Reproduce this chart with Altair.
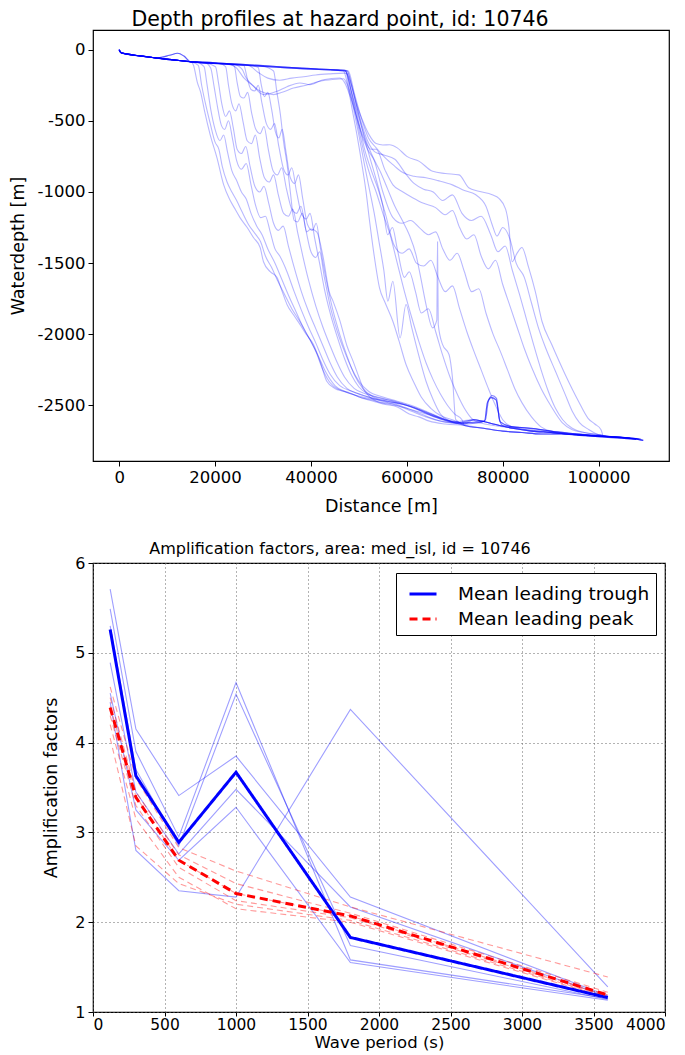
import altair as alt
import pandas as pd

# ---------------- top panel: depth profiles (x in m, depth in m) ----------------
shelf_a = [(0, 0), (400, -22), (1500, -30), (4000, -42), (7000, -55), (10000, -66), (13000, -78), (15000, -85)]
shelf_b = [(0, -5), (500, -25), (2000, -33), (5000, -47), (8000, -57), (10500, -40), (12200, -25), (13500, -45), (15000, -88)]
shelf_c = [(0, -3), (300, -18), (1200, -28), (4500, -45), (8000, -60), (11000, -72), (14000, -82), (15000, -86)]

rs1 = [(16000, -88), (20000, -96), (24000, -104), (28000, -113), (32000, -122), (36000, -130), (40000, -137), (44000, -143), (46500, -148)]
rs2 = [(16000, -85), (20000, -92), (24000, -100), (28000, -108), (32000, -117), (36000, -125), (40000, -132), (44000, -140), (47000, -145)]
dip1 = [(16000, -88), (20000, -96), (24000, -104), (25700, -140), (26300, -187), (28050, -258), (30130, -316), (32900, -293), (35000, -260), (37700, -234), (39800, -246), (42570, -211), (46000, -199)]
dip2 = [(16000, -88), (20000, -96), (23000, -102), (24500, -130), (26000, -199), (27800, -250), (29430, -293), (32200, -316), (34000, -300), (36350, -270), (39000, -250), (41870, -222), (44500, -210), (46800, -205)]
dip3 = [(16000, -86), (20000, -94), (24000, -102), (27000, -112), (29000, -160), (31000, -200), (33500, -215), (36000, -200), (38500, -190), (41000, -178), (44000, -170), (47000, -165)]

tail_bump1 = [(72000, -2630), (75500, -2620), (76400, -2600), (77000, -2470), (77800, -2430), (78700, -2450), (79300, -2600), (80000, -2640), (84000, -2655), (88000, -2670), (92000, -2690), (96000, -2700), (100000, -2712), (104000, -2722), (108800, -2735)]
tail_bump2 = [(73000, -2620), (76200, -2610), (76800, -2480), (77600, -2445), (78600, -2460), (79500, -2615), (82000, -2650), (86000, -2660), (90000, -2680), (94000, -2695), (98000, -2708), (102000, -2718), (106500, -2728)]
tail_flat1 = [(72000, -2640), (76000, -2660), (80000, -2680), (84000, -2690), (88000, -2700), (92000, -2700), (96000, -2710), (100000, -2720), (104000, -2728), (107800, -2738)]
tail_flat2 = [(74000, -2600), (78000, -2630), (82000, -2660), (86000, -2680), (90000, -2690), (95000, -2705), (100000, -2715), (105000, -2725), (109300, -2745)]
tail_r = [(84000, -2665), (88000, -2680), (92000, -2695), (96000, -2705), (100000, -2715), (104000, -2724), (108000, -2732)]
end_tail = [(100000, -2705), (103000, -2720), (106000, -2727), (108500, -2735)]
end_tail2 = [(101000, -2715), (104000, -2725), (107000, -2730), (109000, -2740)]
end_tail3 = [(93000, -2695), (97000, -2708), (101000, -2718), (105000, -2728), (108200, -2736)]

L1 = [(15500, -110), (16300, -230), (17000, -300), (17800, -430), (19000, -600), (20400, -760), (21800, -950), (23000, -1050), (24000, -1110), (25200, -1180), (26700, -1250), (28000, -1320), (29400, -1390), (30100, -1490), (31500, -1560), (32900, -1600), (34000, -1700), (35000, -1790), (36500, -1870), (37700, -1930), (39000, -2000), (40500, -2070), (42000, -2200), (43300, -2330), (45000, -2380), (46700, -2400), (48500, -2420), (50900, -2450), (53000, -2470), (55000, -2490), (58000, -2510), (60500, -2560), (62500, -2580), (64700, -2610), (68000, -2630)]
L2 = [(16500, -110), (17200, -250), (18000, -380), (19000, -520), (20000, -650), (20800, -700), (21500, -820), (22500, -930), (23500, -1000), (24500, -1060), (25500, -1130), (27000, -1230), (28500, -1300), (29500, -1350), (30500, -1450), (31800, -1530), (33000, -1620), (34500, -1720), (36000, -1820), (37500, -1900), (39500, -2020), (41000, -2120), (42500, -2250), (44000, -2340), (46000, -2390), (48000, -2410), (50000, -2440), (52500, -2460), (55000, -2480), (57500, -2490), (60000, -2520), (63000, -2560), (66000, -2600), (69000, -2620)]
L3 = [(16000, -88), (17700, -120), (18300, -240), (19100, -420), (20000, -560), (21000, -640), (21800, -600), (22600, -720), (23500, -850), (24500, -920), (25500, -1000), (26500, -1050), (27500, -1150), (28700, -1240), (29800, -1300), (31000, -1400), (32500, -1500), (34000, -1620), (35500, -1740), (37000, -1850), (38500, -1960), (40000, -2050), (41500, -2150), (43000, -2260), (45000, -2360), (47000, -2400), (49500, -2430), (52000, -2450), (55000, -2470), (58000, -2500), (61000, -2540), (64000, -2580), (67000, -2610), (70000, -2625)]
L4 = [(16000, -88), (18000, -94), (19100, -130), (19800, -260), (20500, -400), (21300, -530), (22000, -560), (22800, -500), (23600, -620), (24500, -780), (25500, -840), (26500, -800), (27500, -950), (28500, -1100), (29500, -1180), (30500, -1170), (31500, -1280), (32500, -1400), (33500, -1450), (35000, -1560), (36500, -1700), (38000, -1830), (39500, -1950), (41000, -2060), (42500, -2180), (44000, -2280), (46000, -2360), (48500, -2400), (51000, -2430), (54000, -2460), (57000, -2480), (60000, -2500), (63000, -2540), (66500, -2590), (70000, -2620)]
L5 = [(18000, -94), (20100, -120), (20700, -230), (21400, -380), (22200, -470), (23000, -430), (23800, -550), (24600, -700), (25500, -730), (26400, -680), (27300, -820), (28300, -960), (29300, -1000), (30200, -960), (31200, -1080), (32200, -1220), (33200, -1270), (34200, -1240), (35300, -1380), (36500, -1530), (38000, -1700), (39500, -1840), (41000, -1960), (42500, -2080), (44000, -2200), (45500, -2300), (47500, -2380), (50000, -2420), (53000, -2450), (56000, -2470), (59000, -2490), (62000, -2520), (65000, -2560), (68000, -2600), (71000, -2620)]
L6 = [(18000, -94), (21000, -98), (22200, -120), (22800, -250), (23500, -380), (24300, -430), (25000, -380), (25800, -500), (26700, -640), (27600, -660), (28400, -600), (29300, -760), (30300, -900), (31300, -930), (32200, -880), (33200, -1020), (34300, -1150), (35300, -1170), (36200, -1120), (37200, -1280), (38300, -1450), (39500, -1620), (41000, -1800), (42500, -1950), (44000, -2080), (45500, -2200), (47000, -2300), (49000, -2380), (51500, -2420), (54500, -2450), (57500, -2470), (60500, -2500), (63500, -2540), (66500, -2580), (69500, -2615)]
L7 = [(18000, -94), (22000, -100), (24000, -115), (24600, -230), (25300, -330), (26000, -340), (26800, -300), (27600, -440), (28500, -560), (29400, -590), (30200, -540), (31100, -700), (32100, -850), (33000, -880), (33900, -830), (34900, -980), (36000, -1120), (37000, -1150), (37900, -1100), (38900, -1260), (40000, -1420), (41000, -1460), (41800, -1420), (42800, -1600), (44000, -1800), (45500, -1980), (47000, -2120), (48500, -2240), (50000, -2330), (52000, -2400), (55000, -2440), (58000, -2470), (61000, -2500), (64000, -2540), (67500, -2590), (71000, -2620)]
L8 = [(18000, -94), (24000, -105), (26000, -112), (26700, -200), (27500, -280), (28300, -290), (29000, -250), (29800, -380), (30700, -520), (31600, -560), (32400, -520), (33300, -680), (34300, -840), (35200, -880), (36000, -830), (37000, -1000), (38000, -1150), (39000, -1190), (39800, -1150), (40800, -1330), (41800, -1500), (42800, -1680), (44000, -1850), (45500, -2020), (47000, -2170), (48500, -2290), (50000, -2370), (52000, -2420), (55000, -2450), (58000, -2480), (61000, -2510), (64500, -2560), (68000, -2600), (71500, -2625)]
L9 = [(18000, -94), (24000, -105), (28000, -116), (29000, -125), (29600, -240), (30300, -330), (31000, -300), (31800, -420), (32600, -580), (33300, -620), (34000, -560), (34800, -720), (35700, -900), (36600, -940), (37400, -880), (38300, -1050), (39300, -1230), (40300, -1270), (41100, -1220), (42000, -1400), (43200, -1620), (44500, -1820), (46000, -2000), (47500, -2150), (49000, -2280), (50800, -2380), (53000, -2440), (56000, -2470), (59000, -2490), (62500, -2530), (66000, -2580), (70000, -2620)]
L10 = [(18000, -94), (24000, -105), (30000, -118), (32200, -150), (32900, -300), (33600, -450), (34300, -650), (35000, -800), (35700, -1000), (36500, -1200), (37200, -1210), (38200, -1150), (39100, -1280), (40000, -1260), (41200, -1280), (42500, -1450), (43800, -1700), (44640, -1770), (46000, -1900), (47500, -2080), (48800, -2190), (50000, -2300), (50900, -2380), (52000, -2430), (53600, -2470), (56000, -2490), (59000, -2510), (62000, -2540), (65000, -2570), (68500, -2610), (72000, -2630)]

R1 = [(47400, -155), (48600, -330), (50000, -560), (51300, -760), (52500, -900), (53600, -1000), (55000, -1150), (56500, -1300), (58000, -1500), (59500, -1700), (61000, -1880), (62500, -2050), (64000, -2200), (65500, -2320), (67000, -2420), (68500, -2500), (70000, -2560), (71500, -2600)]
R2 = [(47200, -150), (48500, -300), (50000, -480), (51500, -640), (53000, -760), (54500, -860), (56000, -980), (57500, -1100), (59150, -1206), (60500, -1300), (61900, -1440), (63000, -1620), (64000, -1791), (65370, -1955), (66250, -1900), (66400, -1350), (66550, -1930), (67440, -2071), (68800, -2142), (69500, -2300), (70200, -2600), (71500, -2625)]
R3 = [(46800, -150), (47600, -240), (48600, -420), (49600, -600), (50600, -800), (51500, -1000), (52230, -1206), (53200, -1450), (54300, -1674), (55500, -1780), (57080, -1908), (58400, -2050), (59830, -2212), (61500, -2340), (63000, -2440), (65000, -2520), (67000, -2570), (69500, -2600), (71500, -2625)]
R4 = [(47300, -150), (47800, -240), (48800, -400), (50000, -600), (51000, -780), (52000, -950), (53200, -1150), (54200, -1350), (55200, -1550), (56040, -1767), (57080, -1627), (58590, -2025), (59830, -1791), (61000, -1950), (62500, -2150), (64000, -2330), (65500, -2460), (67000, -2560), (69000, -2610), (71000, -2630)]
R5 = [(47500, -170), (48500, -260), (49700, -420), (51000, -600), (52300, -760), (53500, -900), (55000, -1100), (56000, -1300), (57000, -1250), (58000, -1400), (59500, -1600), (60500, -1560), (61800, -1700), (63000, -1850), (64500, -1820), (66000, -1980), (67500, -2150), (69000, -2300), (70500, -2420), (72000, -2520), (73500, -2590), (75000, -2620)]
R6 = [(47200, -150), (48300, -280), (49700, -470), (51200, -700), (52600, -850), (54000, -980), (55500, -1150), (57300, -1370), (59000, -1430), (60500, -1400), (62000, -1500), (63500, -1520), (65000, -1480), (66500, -1600), (68000, -1700), (69500, -1660), (71000, -1820), (72500, -1980), (74000, -2120), (75500, -2250), (77000, -2380), (78500, -2500), (80000, -2600), (82000, -2650)]
R7 = [(47500, -240), (48800, -380), (50200, -560), (51800, -700), (53200, -780), (55000, -1000), (57100, -1180), (59000, -1220), (60800, -1200), (62600, -1250), (64500, -1300), (66000, -1280), (67500, -1400), (69000, -1480), (70500, -1430), (72000, -1560), (73500, -1700), (75000, -1680), (76500, -1850), (78000, -2000), (79500, -2120), (81000, -2250), (82500, -2380), (84000, -2480), (86000, -2580), (88000, -2650), (90000, -2680)]
R8 = [(47000, -230), (48200, -330), (49500, -470), (51000, -620), (52500, -700), (53600, -700), (55500, -850), (57100, -950), (59200, -1000), (61200, -1040), (63500, -1080), (66000, -1110), (68000, -1160), (69500, -1130), (71000, -1250), (72500, -1330), (74000, -1300), (75500, -1450), (77000, -1540), (78500, -1480), (80000, -1650), (81500, -1800), (83000, -1950), (84500, -2100), (86000, -2230), (88000, -2380), (90000, -2500), (92400, -2620), (94500, -2670), (97000, -2690)]
R9 = [(47800, -150), (49000, -300), (50500, -480), (52000, -620), (53600, -690), (55500, -760), (57100, -808), (59000, -860), (61500, -890), (64000, -900), (66500, -920), (69500, -950), (72000, -990), (74300, -1018), (76500, -1100), (77800, -1230), (78800, -1310), (80000, -1250), (81500, -1330), (82800, -1500), (84500, -1600), (86000, -1780), (87500, -1960), (89000, -2100), (91000, -2260), (93000, -2420), (94500, -2540), (96000, -2620), (98000, -2670)]
R10 = [(47500, -150), (48500, -250), (49500, -380), (50800, -500), (52000, -590), (53600, -660), (55000, -670), (56400, -668), (58000, -690), (60000, -750), (62600, -785), (65400, -855), (68000, -870), (70900, -880), (72900, -970), (75000, -995), (77800, -1020), (79200, -1045), (80600, -1120), (81300, -1250), (81950, -1490), (83000, -1430), (84000, -1390), (85400, -1530), (86800, -1700), (88200, -1910), (90200, -2070), (93000, -2280), (95800, -2470), (97800, -2590), (99200, -2630), (100500, -2670)]
R11 = [(47600, -150), (48800, -300), (50200, -480), (51800, -640), (53400, -720), (55200, -740), (57500, -770), (59500, -860), (61500, -940), (63500, -980), (65500, -1000), (67500, -1060), (69500, -1020), (71500, -1150), (73500, -1200), (75500, -1170), (77500, -1300), (79000, -1420), (80500, -1380), (82000, -1550), (83500, -1720), (85000, -1900), (86500, -2080), (88000, -2250), (89500, -2400), (91000, -2520), (92500, -2600), (94500, -2660), (97000, -2690)]

profiles = {
    "L1": shelf_a + L1 + tail_flat1,
    "L2": shelf_c + L2 + tail_bump1,
    "L3": shelf_b + L3 + tail_flat2,
    "L4": shelf_a + L4 + tail_bump2,
    "L5": shelf_c + L5 + tail_flat1,
    "L6": shelf_a + L6 + tail_flat2,
    "L7": shelf_b + L7 + tail_flat2,
    "L8": shelf_c + L8 + tail_bump2,
    "L9": shelf_a + L9 + tail_flat1,
    "L10": shelf_c + L10 + tail_flat2,
    "R1": shelf_a + rs1 + R1 + tail_flat1,
    "R2": shelf_c + rs2 + R2 + tail_bump2,
    "R3": shelf_a + rs1 + R3 + tail_flat2,
    "R4": shelf_b + rs2 + R4 + tail_bump1,
    "R5": shelf_a + dip3 + R5 + tail_r,
    "R6": shelf_c + rs1 + R6 + tail_r,
    "R7": shelf_a + dip2 + R7 + end_tail3,
    "R8": shelf_c + dip1 + R8 + end_tail,
    "R9": shelf_a + rs2 + R9 + end_tail,
    "R10": shelf_c + rs1 + R10 + end_tail2,
    "R11": shelf_a + rs2 + R11 + end_tail,
}

rows = []
for name, pts in profiles.items():
    for i, (xv, yv) in enumerate(pts):
        rows.append({"profile": name, "i": i, "dist": xv, "depth": yv})
df_top = pd.DataFrame(rows)

# ---------------- bottom panel: amplification factors ----------------
periods = [120, 300, 600, 1000, 1800, 3600]
trough_1 = [5.71, 4.15, 3.41, 3.85, 2.28, 1.18]
trough_2 = [5.49, 3.90, 2.95, 4.67, 1.58, 1.15]
trough_3 = [5.30, 3.70, 2.85, 4.54, 1.74, 1.14]
trough_4 = [4.89, 3.45, 2.76, 3.48, 2.17, 1.17]
trough_5 = [4.55, 3.25, 2.69, 3.28, 1.55, 1.13]
trough_6 = [4.45, 2.80, 2.35, 2.28, 4.37, 1.28]
peak_1 = [4.62, 3.60, 2.83, 2.57, 2.17, 1.39]
peak_2 = [4.50, 3.45, 2.75, 2.43, 2.10, 1.22]
peak_3 = [4.40, 3.40, 2.69, 2.32, 2.07, 1.19]
peak_4 = [4.30, 3.30, 2.61, 2.24, 2.05, 1.18]
peak_5 = [4.20, 3.15, 2.50, 2.15, 2.00, 1.16]
peak_6 = [4.05, 2.85, 2.43, 2.20, 2.02, 1.17]
mean_trough = [5.26, 3.63, 2.89, 3.67, 1.83, 1.16]
mean_peak = [4.39, 3.39, 2.69, 2.32, 2.07, 1.19]


def long(series_dict):
    out = []
    for name, vals in series_dict.items():
        for p, v in zip(periods, vals):
            out.append({"series": name, "period": p, "amp": v})
    return pd.DataFrame(out)


df_tr = long({"t1": trough_1, "t2": trough_2, "t3": trough_3, "t4": trough_4, "t5": trough_5, "t6": trough_6})
df_pk = long({"p1": peak_1, "p2": peak_2, "p3": peak_3, "p4": peak_4, "p5": peak_5, "p6": peak_6})
df_mean = long({"Mean leading trough": mean_trough, "Mean leading peak": mean_peak})

FONT = "DejaVu Sans"

top = alt.Chart(df_top).mark_line(color="#0000ff", strokeWidth=1.1, opacity=0.28, interpolate="monotone").encode(
    x=alt.X("dist:Q", scale=alt.Scale(domain=[-5460, 114680], nice=False, zero=False),
            axis=alt.Axis(values=[0, 20000, 40000, 60000, 80000, 100000], title="Distance [m]",
                          labelExpr="'' + datum.value", grid=False, titlePadding=12,
                          labelFontSize=16.5, titleFontSize=17.5)),
    y=alt.Y("depth:Q", scale=alt.Scale(domain=[-2890, 138], nice=False, zero=False),
            axis=alt.Axis(values=[0, -500, -1000, -1500, -2000, -2500], title="Waterdepth [m]",
                          labelExpr="'' + datum.value", grid=False, titlePadding=10,
                          labelFontSize=16.5, titleFontSize=17.5)),
    detail="profile:N",
    order="i:Q",
).properties(width=576, height=431,
             title=alt.TitleParams("Depth profiles at hazard point, id: 10746", dx=-41,
                                   fontSize=20.5, offset=0))

xb = alt.X("period:Q", scale=alt.Scale(domain=[0, 4000], nice=False, zero=False),
           axis=alt.Axis(values=list(range(0, 4001, 500)), title="Wave period (s)",
                         labelExpr="'' + datum.value", grid=True, titlePadding=2, labelPadding=1,
                         tickSize=4, labelFontSize=15.5, titleFontSize=16.5))
yb = alt.Y("amp:Q", scale=alt.Scale(domain=[1, 6], nice=False, zero=False),
           axis=alt.Axis(values=[1, 2, 3, 4, 5, 6], title="Amplification factors",
                         labelExpr="'' + datum.value", grid=True, titlePadding=14,
                         labelFontSize=16, titleFontSize=17.5))

thin_tr = alt.Chart(df_tr).mark_line(color="#0000ff", strokeWidth=1.1, opacity=0.38).encode(
    x=xb, y=yb, detail="series:N")
thin_pk = alt.Chart(df_pk).mark_line(color="#ff0000", strokeWidth=1.1, opacity=0.4, strokeDash=[6, 4]).encode(
    x=xb, y=yb, detail="series:N")

leg = alt.Legend(title=None, orient="none", legendX=303, legendY=543, strokeColor="black",
                 fillColor="white", padding=6, symbolOffset=6, labelFontSize=18.5, labelFont=FONT,
                 labelColor="black", symbolType="stroke", symbolSize=729, symbolStrokeWidth=3,
                 rowPadding=0, labelOffset=20, cornerRadius=0, labelLimit=400)
dom = ["Mean leading trough", "Mean leading peak"]
means = alt.Chart(df_mean).mark_line(strokeWidth=3).encode(
    x=xb, y=yb,
    color=alt.Color("series:N", scale=alt.Scale(domain=dom, range=["#0000ff", "#ff0000"]), legend=leg),
    strokeDash=alt.StrokeDash("series:N", scale=alt.Scale(domain=dom, range=[[1, 0], [8, 5]]), legend=leg),
)

bottom = alt.layer(thin_tr, thin_pk, means).properties(
    width=572, height=449,
    title=alt.TitleParams("Amplification factors, area: med_isl, id = 10746", dx=-39,
                          fontSize=16, offset=-2))

chart = alt.vconcat(top, bottom, spacing=24).properties(
    padding={"left": 0, "top": 0, "right": 5, "bottom": 0}
).configure_view(stroke="black", strokeWidth=1.2).configure_axis(
    labelFont=FONT, labelColor="black", titleFont=FONT,
    titleFontWeight="normal", titleColor="black", tickColor="black", tickSize=5, domain=False,
    labelPadding=3, gridColor="#666666", gridDash=[1, 3], gridWidth=1
).configure_title(font=FONT, fontWeight="normal", color="black", anchor="middle")

chart.save("out.html", embed_options={"renderer": "svg", "actions": False})
